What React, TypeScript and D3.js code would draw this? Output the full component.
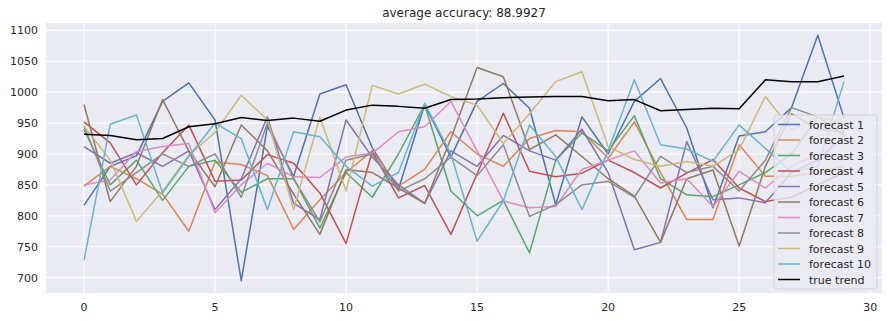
import React from "react";
import * as d3 from "d3";

const W = 888;
const H = 321;
const M = { left: 46, right: 882, top: 23, bottom: 293 };

const TITLE = "average accuracy: 88.9927";
const X_TICKS = [0, 5, 10, 15, 20, 25, 30];
const Y_TICKS = [700, 750, 800, 850, 900, 950, 1000, 1050, 1100];

const SERIES_NAMES = [
  "forecast 1", "forecast 2", "forecast 3", "forecast 4", "forecast 5",
  "forecast 6", "forecast 7", "forecast 8", "forecast 9", "forecast 10", "true trend",
];
const SERIES_COLORS = [
  "#4C72B0", "#DD8452", "#55A868", "#C44E52", "#8172B3",
  "#937860", "#DA8BC3", "#8C8C8C", "#CCB974", "#64B5CD", "#000000",
];

const f1 = [817, 880, 897, 985, 1015, 955, 695, 945, 864, 997, 1012, 910, 843, 980, 895, 985, 1014, 974, 818, 960, 900, 985, 1022, 942, 813, 929, 936, 975, 1092, 958];
const f2 = [848, 880, 860, 835, 775, 887, 883, 865, 778, 826, 870, 905, 848, 875, 936, 900, 880, 925, 938, 936, 893, 952, 870, 794, 794, 915, 864, 864, 870, 880];
const f3 = [940, 850, 890, 825, 880, 890, 838, 860, 860, 780, 870, 830, 900, 980, 840, 800, 825, 740, 890, 934, 905, 962, 860, 834, 831, 850, 870, 900, 960, 930];
const f4 = [952, 918, 850, 902, 947, 856, 858, 899, 885, 837, 755, 904, 829, 849, 770, 868, 966, 872, 863, 869, 890, 870, 845, 869, 891, 845, 823, 830, 850, 870];
const f5 = [912, 885, 902, 880, 905, 810, 860, 960, 820, 794, 955, 895, 850, 820, 905, 880, 930, 905, 890, 940, 870, 745, 757, 920, 826, 829, 821, 870, 890, 930];
const f6 = [980, 823, 880, 988, 905, 847, 947, 905, 835, 770, 875, 870, 845, 820, 925, 1040, 1025, 907, 931, 896, 860, 832, 757, 860, 874, 751, 880, 965, 940, 935];
const f7 = [850, 858, 904, 912, 917, 805, 850, 885, 863, 862, 895, 901, 936, 944, 985, 905, 824, 813, 815, 875, 890, 905, 853, 860, 815, 872, 845, 880, 900, 890];
const f8 = [945, 840, 870, 900, 880, 900, 830, 950, 860, 790, 890, 900, 840, 860, 895, 865, 915, 799, 818, 850, 856, 830, 896, 870, 880, 840, 890, 975, 960, 950];
const f9 = [945, 890, 791, 840, 898, 935, 995, 955, 810, 960, 840, 1011, 997, 1013, 993, 979, 917, 965, 1017, 1033, 912, 891, 880, 888, 880, 907, 993, 939, 960, 950];
const f10 = [728, 948, 963, 837, 896, 950, 925, 810, 936, 928, 880, 848, 870, 982, 900, 759, 824, 947, 896, 810, 905, 1020, 915, 908, 888, 947, 909, 870, 880, 1017];
const trueTrend = [932, 930, 923, 925, 944, 949, 959, 954, 958, 953, 971, 979, 977, 974, 988, 989, 991, 992, 993, 993, 986, 988, 970, 972, 974, 973, 1020, 1017, 1017, 1026];

const ALL = [f1, f2, f3, f4, f5, f6, f7, f8, f9, f10, trueTrend];

export default function App() {
  const n = trueTrend.length;
  const xPad = (n - 1) * 0.05;
  const x = d3.scaleLinear().domain([-xPad, n - 1 + xPad]).range([M.left, M.right]);
  const flat = ALL.flat();
  const [mn, mx] = d3.extent(flat) as [number, number];
  const yPad = (mx - mn) * 0.05;
  const y = d3.scaleLinear().domain([mn - yPad, mx + yPad]).range([M.bottom, M.top]);
  const line = d3.line<number>().x((_, i) => x(i)).y((d) => y(d));

  const font = "'DejaVu Sans', sans-serif";
  const tickColor = "#262626";

  const legX = 774;
  const legY = 115;
  const legW = 103;
  const rowH = 15.5;
  const legH = 174;

  return (
    <svg width={W} height={H} style={{ position: "absolute", left: 0, top: 0 }} fontFamily={font}>
      <rect x={0} y={0} width={W} height={H} fill="#ffffff" />
      <rect x={M.left} y={M.top} width={M.right - M.left} height={M.bottom - M.top} fill="#EAEAF2" />
      {X_TICKS.map((t) => (
        <line key={"gx" + t} x1={x(t)} x2={x(t)} y1={M.top} y2={M.bottom} stroke="#ffffff" strokeWidth={1.1} />
      ))}
      {Y_TICKS.map((t) => (
        <line key={"gy" + t} x1={M.left} x2={M.right} y1={y(t)} y2={y(t)} stroke="#ffffff" strokeWidth={1.1} />
      ))}
      {X_TICKS.map((t) => (
        <text key={"tx" + t} x={x(t)} y={M.bottom + 18} textAnchor="middle" fontSize={11} fill={tickColor}>
          {t}
        </text>
      ))}
      {Y_TICKS.map((t) => (
        <text key={"ty" + t} x={M.left - 8} y={y(t) + 4} textAnchor="end" fontSize={11} fill={tickColor}>
          {t}
        </text>
      ))}
      <g>
        {ALL.map((s, i) => (
          <path key={"s" + i} d={line(s) || ""} fill="none" stroke={SERIES_COLORS[i]} strokeWidth={1.5} strokeLinejoin="round" />
        ))}
      </g>
      <text x={(M.left + M.right) / 2} y={17} textAnchor="middle" fontSize={12} fill={tickColor}>
        {TITLE}
      </text>
      <g>
        <rect x={legX} y={legY} width={legW} height={legH} rx={3} fill="#EAEAF2" fillOpacity={0.8} stroke="#cccccc" strokeOpacity={0.8} />
        {SERIES_NAMES.map((name, i) => {
          const cy = legY + 9.5 + i * rowH;
          return (
            <g key={"l" + i}>
              <line x1={legX + 4} x2={legX + 26} y1={cy} y2={cy} stroke={SERIES_COLORS[i]} strokeWidth={1.5} />
              <text x={legX + 35} y={cy + 4} fontSize={11} fill={tickColor}>
                {name}
              </text>
            </g>
          );
        })}
      </g>
    </svg>
  );
}
